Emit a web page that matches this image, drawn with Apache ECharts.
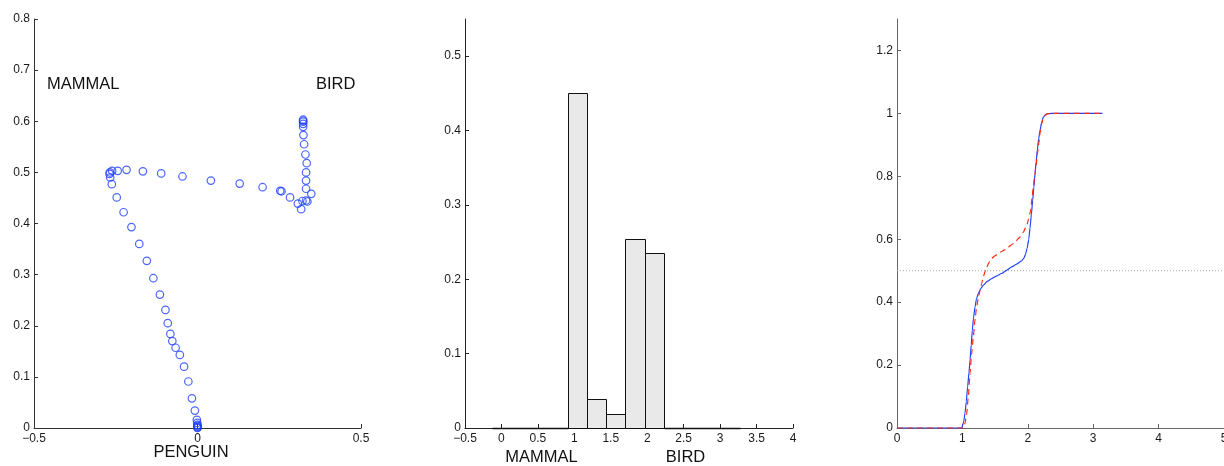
<!DOCTYPE html>
<html>
<head>
<meta charset="utf-8">
<title>Category embedding, histogram and cumulative curves</title>
<script src="https://cdn.jsdelivr.net/npm/echarts@6/dist/echarts.min.js"></script>
<style>
  html, body { margin: 0; padding: 0; background: #fff; }
  #chart { width: 1224px; height: 466px; }
</style>
</head>
<body>
<div id="chart"></div>
<script>
// ---- Panel 1: trajectory of points between the three categories ----
const trajectory = [
  [0, 0], [0, 0.001], [0, 0.002], [0, 0.004], [0, 0.006], [-0.001, 0.010], [-0.002, 0.016],
  [-0.008, 0.034], [-0.017, 0.058], [-0.028, 0.091], [-0.041, 0.120], [-0.054, 0.143],
  [-0.067, 0.157], [-0.077, 0.170], [-0.083, 0.184], [-0.091, 0.205], [-0.098, 0.231],
  [-0.115, 0.261], [-0.135, 0.293], [-0.155, 0.327], [-0.178, 0.360], [-0.202, 0.393],
  [-0.226, 0.422], [-0.247, 0.451], [-0.262, 0.477], [-0.267, 0.490], [-0.269, 0.497],
  [-0.268, 0.500], [-0.261, 0.503], [-0.244, 0.503], [-0.217, 0.505], [-0.167, 0.502],
  [-0.111, 0.498], [-0.046, 0.492], [0.041, 0.484], [0.129, 0.478], [0.199, 0.471],
  [0.253, 0.464], [0.257, 0.463], [0.283, 0.451], [0.307, 0.439], [0.317, 0.428],
  [0.321, 0.444], [0.332, 0.445], [0.336, 0.443], [0.348, 0.458], [0.332, 0.468],
  [0.332, 0.484], [0.332, 0.500], [0.334, 0.518], [0.330, 0.535], [0.326, 0.555],
  [0.324, 0.573], [0.323, 0.589], [0.323, 0.595], [0.323, 0.599], [0.323, 0.601], [0.323, 0.603]
];
const p1XTicks = [-0.5, 0, 0.5];
const p1YTicks = [0, 0.1, 0.2, 0.3, 0.4, 0.5, 0.6, 0.7, 0.8];

// ---- Panel 2: histogram over 13 bins ----
const binCenters = [0, 0.2618, 0.5236, 0.7854, 1.0472, 1.3090, 1.5708, 1.8326, 2.0944, 2.3562, 2.6180, 2.8798, 3.1416];
const binValues  = [0, 0, 0, 0, 0.451, 0.039, 0.019, 0.2545, 0.235, 0, 0, 0, 0];
const binWidth = 0.2618;
const p2XTicks = [-0.5, 0, 0.5, 1, 1.5, 2, 2.5, 3, 3.5, 4];
const p2YTicks = [0, 0.1, 0.2, 0.3, 0.4, 0.5];

// ---- Panel 3: two cumulative curves and the 0.5 reference level ----
const cdfSolid = [
  [0, 0], [0.99, 0], [1.02, 0.02], [1.04, 0.047], [1.06, 0.085], [1.08, 0.131], [1.10, 0.175],
  [1.117, 0.216], [1.135, 0.265], [1.152, 0.311], [1.17, 0.35], [1.193, 0.385], [1.215, 0.41],
  [1.244, 0.428], [1.28, 0.443], [1.32, 0.454], [1.38, 0.466], [1.448, 0.475], [1.52, 0.483],
  [1.60, 0.491], [1.68, 0.502], [1.754, 0.512], [1.83, 0.521], [1.906, 0.531], [1.94, 0.540],
  [1.965, 0.552], [1.99, 0.572], [2.015, 0.600], [2.034, 0.636], [2.055, 0.68], [2.075, 0.724],
  [2.093, 0.766], [2.11, 0.808], [2.128, 0.847], [2.145, 0.883], [2.165, 0.918], [2.187, 0.946],
  [2.21, 0.969], [2.237, 0.988], [2.27, 0.996], [2.313, 0.999], [2.36, 1], [3.1416, 1]
];
const cdfDashed = [
  [0, 0], [1.01, 0], [1.04, 0.015], [1.066, 0.047], [1.09, 0.10], [1.117, 0.174], [1.14, 0.235],
  [1.167, 0.29], [1.19, 0.34], [1.218, 0.385], [1.245, 0.415], [1.27, 0.438], [1.295, 0.46],
  [1.32, 0.48], [1.345, 0.497], [1.372, 0.512], [1.41, 0.527], [1.448, 0.539], [1.50, 0.548],
  [1.55, 0.555], [1.60, 0.561], [1.651, 0.567], [1.70, 0.575], [1.763, 0.584], [1.82, 0.595],
  [1.881, 0.607], [1.93, 0.622], [1.983, 0.644], [2.015, 0.665], [2.044, 0.692], [2.065, 0.73],
  [2.084, 0.766], [2.105, 0.80], [2.125, 0.83], [2.145, 0.868], [2.167, 0.904], [2.19, 0.94],
  [2.212, 0.967], [2.237, 0.984], [2.263, 0.994], [2.30, 0.999], [2.34, 1], [3.1416, 1]
];
const refLevel = 0.5;
const p3XTicks = [0, 1, 2, 3, 4, 5];
const p3YTicks = [0, 0.2, 0.4, 0.6, 0.8, 1, 1.2];

// ---- shared styling ----
const FONT = '"Liberation Sans", Arial, Helvetica, sans-serif';
const fmt = v => String(+v.toFixed(2)).replace('-', '\u2212');

function valueAxis(gridIndex, min, max, ticks, axisColor, isX) {
  return {
    type: 'value', gridIndex, min, max,
    splitLine: { show: false },
    axisLine: { show: true, onZero: false, lineStyle: { color: axisColor, width: 1 } },
    axisTick: { show: true, inside: true, length: 4, customValues: ticks,
                lineStyle: { color: axisColor, width: 1 } },
    axisLabel: { show: true, customValues: ticks, formatter: fmt, hideOverlap: false,
                 fontFamily: FONT, fontSize: 12, color: '#1a1a1a', margin: isX ? 5 : 4 }
  };
}

function caption(text, x, y, align) {
  return {
    type: 'text', x, y,
    style: { text, font: '16.5px ' + FONT, fill: '#111', align: align || 'left', verticalAlign: 'middle' }
  };
}

const chart = echarts.init(document.getElementById('chart'), null, { renderer: 'canvas' });

chart.setOption({
  animation: false,
  backgroundColor: '#fff',
  grid: [
    { left: 34, top: 19, width: 327, height: 409, outerBoundsMode: 'none', containLabel: false },
    { left: 465, top: 19, width: 328, height: 409, outerBoundsMode: 'none', containLabel: false },
    { left: 897, top: 19, width: 327, height: 409, outerBoundsMode: 'none', containLabel: false }
  ],
  xAxis: [
    valueAxis(0, -0.5, 0.5, p1XTicks, '#333', true),
    valueAxis(1, -0.5, 4, p2XTicks, '#222', true),
    valueAxis(2, 0, 5, p3XTicks, '#666', true)
  ],
  yAxis: [
    valueAxis(0, 0, 0.8, p1YTicks, '#333', false),
    valueAxis(1, 0, 0.55, p2YTicks, '#222', false),
    valueAxis(2, 0, 1.3, p3YTicks, '#666', false)
  ],
  series: [
    {
      type: 'scatter', xAxisIndex: 0, yAxisIndex: 0,
      data: trajectory,
      symbol: 'circle', symbolSize: 7.5,
      itemStyle: { color: 'rgba(255,255,255,0)', borderColor: '#1f40ff', borderWidth: 1.2 }
    },
    {
      type: 'custom', xAxisIndex: 1, yAxisIndex: 1,
      data: binCenters.map((c, i) => [c, binValues[i]]),
      renderItem(params, api) {
        const c = api.value(0), h = api.value(1);
        const a = api.coord([c - binWidth / 2, h]);
        const b = api.coord([c + binWidth / 2, 0]);
        return {
          type: 'rect',
          shape: { x: Math.round(a[0]) + 0.5, y: Math.round(a[1]) + 0.5,
                   width: Math.round(b[0]) - Math.round(a[0]),
                   height: Math.round(b[1]) - Math.round(a[1]) },
          style: { fill: '#e9e9e9', stroke: '#111', lineWidth: h === 0 ? 1.6 : 1 }
        };
      }
    },
    {
      type: 'line', xAxisIndex: 2, yAxisIndex: 2,
      data: [[0, refLevel], [5, refLevel]],
      symbol: 'none', silent: true,
      lineStyle: { color: '#a8a8a8', width: 1, type: [1, 2] }
    },
    {
      type: 'line', xAxisIndex: 2, yAxisIndex: 2,
      data: cdfSolid, symbol: 'none', smooth: 0.2, smoothMonotone: 'x',
      lineStyle: { color: '#2244ff', width: 1.2 }
    },
    {
      type: 'line', xAxisIndex: 2, yAxisIndex: 2,
      data: cdfDashed, symbol: 'none', smooth: 0.2, smoothMonotone: 'x',
      lineStyle: { color: '#ff2a10', width: 1.2, type: [6, 4] }
    }
  ],
  graphic: [
    caption('MAMMAL', 47, 84),
    caption('BIRD', 316, 84),
    caption('PENGUIN', 191, 452.5, 'center'),
    caption('MAMMAL', 541.5, 457, 'center'),
    caption('BIRD', 685.5, 457, 'center')
  ]
});
</script>
</body>
</html>
